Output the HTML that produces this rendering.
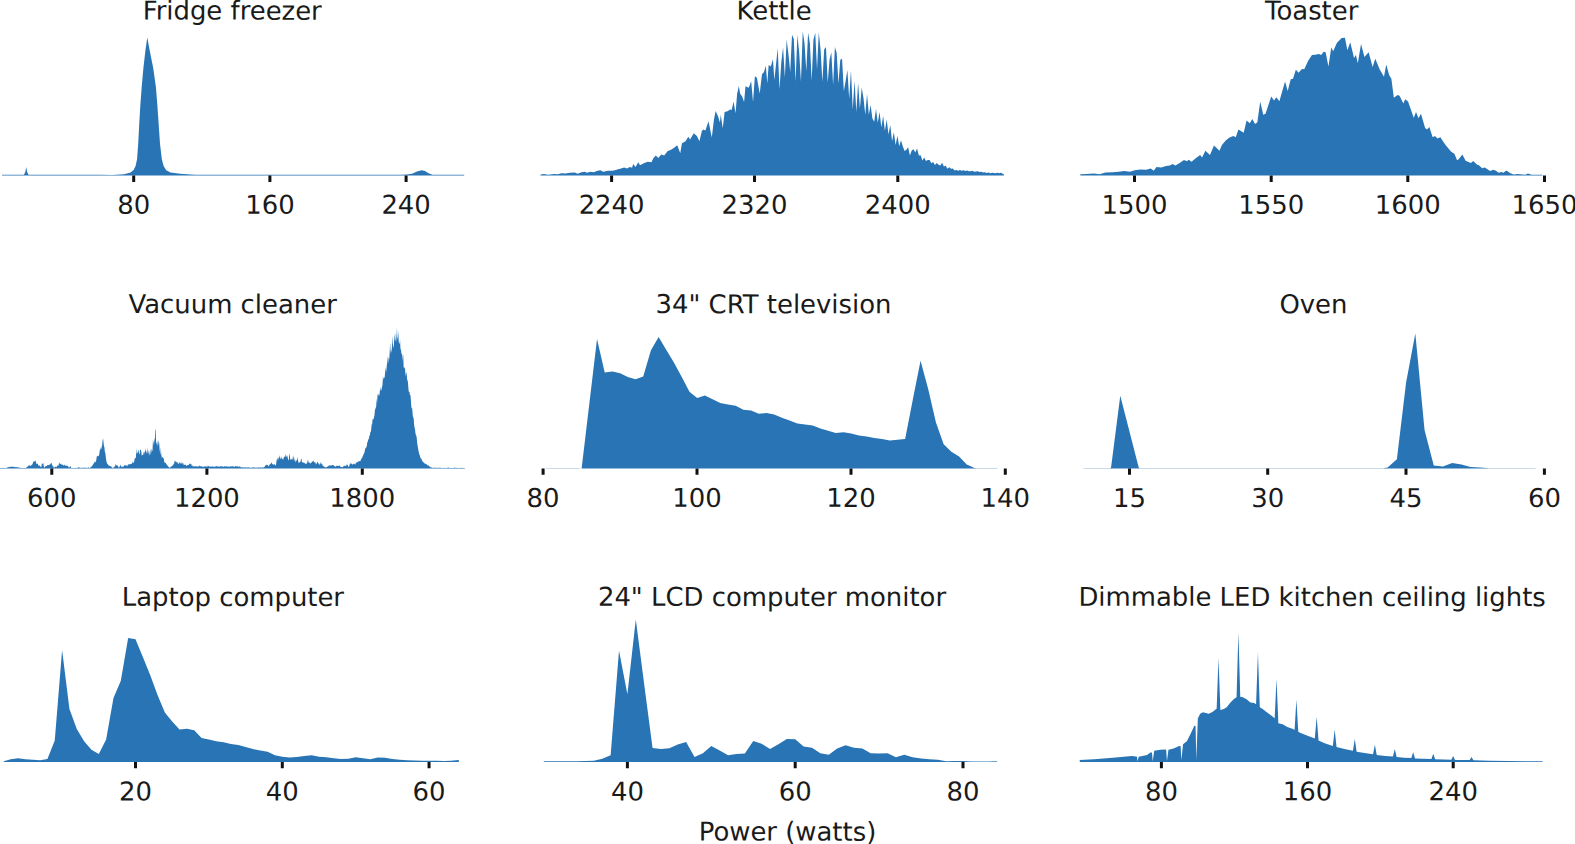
<!DOCTYPE html>
<html lang="en"><head><meta charset="utf-8"><title>Appliance power histograms</title>
<style>html,body{margin:0;padding:0;background:#fff;overflow:hidden}svg{display:block}text{text-rendering:geometricPrecision;font-family:"DejaVu Sans","Liberation Sans",sans-serif;font-size:25.9px;fill:#1a1a1a;text-anchor:middle}.f{fill:#2874b5;stroke:none}.t{stroke:#111;stroke-width:3;fill:none}</style></head><body>
<svg width="1575" height="844" viewBox="0 0 1575 844">
<rect width="1575" height="844" fill="#fff"/>
<path class="f" d="M2.00,175.50 L2.00,174.75 L23.90,174.75 L25.30,172.00 L26.20,167.10 L27.10,172.00 L28.50,174.75 L100.00,174.70 L112.00,175.00 L124.00,174.30 L130.50,172.60 L133.60,170.00 L135.60,166.00 L137.10,158.90 L138.20,143.70 L139.20,124.80 L140.30,105.80 L141.70,86.90 L143.40,67.90 L145.60,48.96 L147.30,37.60 L149.40,48.96 L153.20,67.90 L155.90,86.90 L157.40,105.80 L158.70,124.80 L160.00,143.70 L161.80,158.90 L163.60,166.00 L166.20,170.20 L170.50,172.60 L180.00,173.80 L195.00,174.80 L205.00,174.75 L400.00,174.75 L406.90,174.60 L412.00,173.80 L417.00,171.60 L421.60,170.30 L425.00,171.00 L428.00,173.00 L432.50,174.70 L464.20,174.75 L464.20,175.50 Z"/>
<path class="f" d="M540.31,175.50 L540.31,174.69 L543.53,173.93 L548.27,174.69 L553.96,173.93 L557.75,174.31 L561.54,173.18 L565.33,173.55 L570.07,172.80 L574.81,172.61 L577.65,173.74 L581.45,172.23 L584.67,171.66 L587.13,172.80 L590.36,171.66 L593.77,172.23 L597.56,170.71 L600.40,170.14 L603.25,171.66 L607.99,170.71 L612.73,170.71 L616.52,169.76 L620.31,168.82 L624.10,167.49 L626.94,168.44 L629.79,166.92 L632.06,167.87 L633.20,164.08 L635.47,166.92 L638.32,162.18 L640.00,165.21 L644.27,163.08 L647.82,161.66 L651.37,162.37 L653.51,158.10 L655.92,155.55 L658.20,158.10 L661.33,154.55 L664.17,155.55 L667.73,151.00 L670.57,150.00 L673.41,148.15 L677.25,145.31 L680.24,153.13 L681.94,143.18 L685.50,141.33 L688.34,136.78 L690.05,139.62 L693.74,133.22 L696.87,136.07 L699.43,141.33 L701.85,131.09 L703.27,129.38 L705.40,130.38 L708.53,121.14 L711.80,137.49 L713.93,119.72 L715.64,110.90 L718.20,116.87 L719.91,122.56 L720.76,114.74 L722.75,128.25 L724.60,111.90 L727.44,111.18 L730.28,109.48 L731.71,110.05 L733.55,101.52 L735.55,113.32 L737.11,94.12 L738.82,86.02 L740.24,94.12 L742.09,96.26 L744.08,101.94 L745.50,86.30 L748.77,87.73 L751.18,81.33 L753.03,101.94 L754.88,76.35 L756.87,77.77 L759.72,93.41 L761.99,74.22 L763.98,72.09 L765.83,65.69 L767.25,83.46 L768.67,64.98 L770.81,66.40 L772.94,59.29 L774.36,79.91 L777.72,48.31 L779.51,89.15 L781.30,61.95 L783.08,47.17 L784.87,77.43 L786.66,39.62 L788.44,54.24 L790.23,72.12 L792.02,34.67 L793.80,39.06 L795.59,81.26 L797.38,35.11 L799.16,52.03 L800.95,81.47 L802.74,31.58 L804.52,43.11 L806.31,71.33 L808.10,32.68 L809.88,43.35 L811.67,80.38 L813.45,39.80 L815.24,32.72 L817.03,69.57 L818.81,32.33 L820.60,49.95 L822.39,81.87 L824.17,49.43 L825.96,46.89 L827.75,82.62 L829.53,59.66 L831.32,52.26 L833.11,84.87 L834.89,47.06 L836.68,53.06 L838.47,83.40 L840.25,60.02 L842.04,58.46 L843.83,90.96 L845.61,81.20 L847.40,69.99 L849.18,98.92 L850.97,70.22 L852.76,109.51 L854.54,80.63 L856.33,112.04 L858.12,82.76 L859.90,108.87 L861.69,87.45 L863.48,97.89 L865.26,114.70 L867.05,93.88 L868.84,114.84 L870.62,105.04 L872.41,118.51 L874.20,121.66 L875.98,109.05 L877.77,122.69 L879.56,111.88 L881.34,127.35 L883.13,116.01 L884.91,130.77 L886.70,119.62 L888.49,134.49 L890.27,124.98 L892.06,141.19 L893.85,132.16 L895.63,145.04 L897.42,135.70 L899.21,146.23 L900.99,140.20 L902.78,146.22 L904.57,151.02 L906.35,149.68 L908.14,147.35 L909.93,155.51 L911.71,150.42 L913.50,149.28 L915.29,152.48 L917.07,148.47 L918.86,155.52 L920.64,155.25 L922.43,160.39 L924.22,157.49 L926.00,160.91 L927.79,160.12 L929.58,160.03 L931.36,163.31 L933.15,161.94 L934.94,164.98 L936.72,163.02 L938.51,164.74 L940.30,165.58 L942.08,162.87 L943.87,166.41 L945.66,165.80 L947.44,168.67 L949.23,167.31 L951.02,168.77 L952.80,168.44 L954.59,170.44 L956.37,169.88 L958.16,170.85 L959.95,170.08 L961.73,170.83 L963.52,170.19 L965.31,171.05 L967.09,170.46 L968.88,171.21 L970.67,171.25 L972.45,170.83 L974.24,171.87 L976.03,171.60 L977.81,171.36 L979.60,172.06 L981.39,171.64 L983.17,172.51 L984.96,172.17 L986.75,173.01 L988.53,172.55 L990.32,173.14 L992.10,172.75 L993.89,172.90 L995.68,173.16 L997.46,172.80 L999.25,173.20 L1001.04,172.73 L1002.82,173.73 L1003.93,174.50 L1003.93,175.50 Z"/>
<path class="f" d="M1080.31,175.50 L1080.31,174.31 L1086.37,173.93 L1093.96,173.55 L1099.64,174.31 L1105.33,172.61 L1112.91,172.23 L1118.60,171.66 L1124.29,171.09 L1129.98,171.66 L1134.72,170.33 L1140.40,169.38 L1146.09,169.76 L1150.83,168.44 L1153.67,170.71 L1156.52,166.92 L1161.26,167.49 L1166.00,165.97 L1169.79,165.59 L1172.63,164.08 L1175.47,165.59 L1179.27,163.13 L1184.00,159.91 L1186.85,161.23 L1188.74,159.72 L1191.59,161.80 L1195.38,158.39 L1200.12,154.98 L1202.01,157.44 L1205.43,150.81 L1209.98,154.98 L1213.96,145.50 L1219.45,150.81 L1221.92,145.12 L1225.71,140.38 L1229.50,137.54 L1233.29,136.02 L1235.76,137.16 L1238.41,129.57 L1243.72,132.80 L1246.56,120.47 L1249.79,123.32 L1252.25,118.96 L1255.09,123.89 L1257.37,122.37 L1260.21,101.52 L1263.25,114.79 L1265.52,113.84 L1271.21,96.40 L1274.05,100.57 L1276.33,97.35 L1279.36,101.14 L1285.05,81.61 L1287.70,91.09 L1290.73,79.15 L1293.01,78.77 L1295.85,69.67 L1298.70,72.70 L1301.54,69.29 L1304.38,68.91 L1308.18,60.76 L1311.97,55.07 L1315.00,54.69 L1318.96,54.12 L1321.23,55.07 L1323.70,51.85 L1325.59,52.23 L1328.44,66.45 L1331.28,47.49 L1333.18,51.28 L1336.97,42.75 L1341.71,38.01 L1344.93,37.63 L1347.39,50.33 L1350.24,42.37 L1354.03,57.91 L1355.92,55.07 L1357.82,63.22 L1361.04,44.08 L1364.45,56.97 L1368.63,52.23 L1372.61,67.01 L1375.26,58.86 L1379.62,69.29 L1383.98,76.87 L1386.26,64.55 L1389.10,74.98 L1391.37,78.77 L1393.84,97.73 L1397.63,94.88 L1399.53,95.83 L1403.32,103.41 L1405.21,99.24 L1408.06,101.52 L1413.74,117.63 L1416.02,111.94 L1418.48,118.20 L1420.95,113.84 L1425.12,128.06 L1427.01,129.57 L1429.29,127.11 L1432.70,137.16 L1434.98,136.02 L1437.44,138.48 L1440.28,137.16 L1440.00,136.79 L1445.33,144.79 L1451.20,151.72 L1454.40,153.85 L1457.06,160.25 L1458.66,159.18 L1462.39,154.38 L1465.59,160.78 L1470.92,162.91 L1473.27,161.10 L1476.79,164.51 L1478.92,165.26 L1482.12,168.25 L1484.79,167.39 L1490.12,170.91 L1493.32,169.85 L1495.45,170.38 L1498.65,172.73 L1501.32,171.98 L1503.45,172.83 L1506.33,170.38 L1510.38,173.36 L1513.58,174.43 L1517.84,173.90 L1525.31,174.64 L1527.97,173.58 L1531.71,174.86 L1541.84,174.64 L1542.37,174.86 L1542.37,175.50 Z"/>
<path class="f" d="M0.00,468.40 L0.00,467.95 L0.45,467.95 L0.90,467.92 L1.35,467.95 L1.80,467.95 L2.25,467.95 L2.70,467.87 L3.15,467.90 L3.60,467.95 L4.05,467.69 L4.50,467.95 L4.95,467.95 L5.40,467.95 L5.85,467.95 L6.30,467.95 L6.75,467.83 L7.20,467.33 L7.65,467.68 L8.10,467.15 L8.55,467.07 L9.00,467.21 L9.45,466.70 L9.90,467.09 L10.35,467.06 L10.80,466.58 L11.25,466.89 L11.70,466.80 L12.15,466.56 L12.60,466.64 L13.05,466.67 L13.50,466.82 L13.95,466.96 L14.40,467.23 L14.85,466.86 L15.30,467.39 L15.75,466.84 L16.20,467.31 L16.65,467.09 L17.10,467.20 L17.55,467.55 L18.00,467.59 L18.45,467.58 L18.90,467.45 L19.35,467.67 L19.80,467.59 L20.25,467.84 L20.70,467.95 L21.15,467.95 L21.60,467.95 L22.05,467.83 L22.50,467.95 L22.95,467.95 L23.40,467.92 L23.85,467.95 L24.30,467.95 L24.75,467.95 L25.20,467.95 L25.65,467.95 L26.10,467.73 L26.55,467.53 L27.00,466.97 L27.45,466.81 L27.90,466.28 L28.35,465.87 L28.80,465.51 L29.25,466.01 L29.70,464.55 L30.15,465.48 L30.60,465.97 L31.05,466.05 L31.50,464.40 L31.95,465.04 L32.40,464.17 L32.85,463.15 L33.30,461.23 L33.75,461.76 L34.20,461.98 L34.65,461.12 L35.10,460.58 L35.55,460.82 L36.00,462.46 L36.45,463.84 L36.90,464.25 L37.35,463.53 L37.80,463.81 L38.25,465.21 L38.70,465.77 L39.15,465.40 L39.60,465.55 L40.05,466.15 L40.50,466.55 L40.95,466.91 L41.40,467.11 L41.85,463.18 L42.30,464.38 L42.75,463.52 L43.20,462.54 L43.65,465.33 L44.10,467.79 L44.55,467.15 L45.00,466.73 L45.45,466.58 L45.90,465.78 L46.35,466.13 L46.80,465.80 L47.25,465.19 L47.70,464.93 L48.15,464.97 L48.60,465.26 L49.05,464.80 L49.50,464.72 L49.95,464.69 L50.40,463.58 L50.85,463.70 L51.30,463.10 L51.75,463.21 L52.20,465.60 L52.65,465.59 L53.10,466.05 L53.55,467.16 L54.00,467.48 L54.45,467.55 L54.90,467.45 L55.35,466.77 L55.80,466.57 L56.25,467.17 L56.70,466.66 L57.15,466.05 L57.60,465.12 L58.05,466.02 L58.50,465.80 L58.95,463.15 L59.40,462.26 L59.85,464.37 L60.30,464.05 L60.75,463.70 L61.20,463.69 L61.65,465.00 L62.10,464.70 L62.55,464.39 L63.00,464.97 L63.45,465.62 L63.90,465.43 L64.35,465.15 L64.80,464.42 L65.25,465.42 L65.70,465.94 L66.15,465.73 L66.60,465.57 L67.05,465.67 L67.50,465.96 L67.95,465.99 L68.40,467.03 L68.85,467.55 L69.30,467.42 L69.75,466.63 L70.20,466.61 L70.65,466.01 L71.10,467.95 L71.55,467.95 L72.00,467.95 L72.45,467.95 L72.90,467.95 L73.35,467.95 L73.80,467.95 L74.25,467.95 L74.70,467.95 L75.15,467.95 L75.60,467.95 L76.05,467.79 L76.50,467.95 L76.95,467.95 L77.40,467.72 L77.85,467.95 L78.30,467.37 L78.75,467.18 L79.20,467.19 L79.65,467.65 L80.10,467.90 L80.55,467.75 L81.00,467.79 L81.45,467.77 L81.90,467.95 L82.35,467.77 L82.80,467.80 L83.25,467.69 L83.70,467.77 L84.15,467.84 L84.60,467.77 L85.05,467.52 L85.50,467.95 L85.95,467.77 L86.40,467.66 L86.85,467.63 L87.30,467.95 L87.75,467.89 L88.20,467.24 L88.65,467.55 L89.10,467.95 L89.55,467.95 L90.00,467.81 L90.45,467.51 L90.90,467.14 L91.35,466.58 L91.80,466.16 L92.25,465.75 L92.70,464.95 L93.15,464.34 L93.60,463.52 L94.05,463.32 L94.50,462.10 L94.95,461.43 L95.40,462.45 L95.85,461.53 L96.30,460.06 L96.75,456.38 L97.20,456.14 L97.65,456.02 L98.10,455.58 L98.55,456.59 L99.00,455.44 L99.45,452.90 L99.90,449.61 L100.35,450.05 L100.80,447.05 L101.25,449.59 L101.70,446.98 L102.15,445.01 L102.60,440.27 L103.05,438.41 L103.50,442.08 L103.95,446.25 L104.40,446.96 L104.85,451.81 L105.30,452.80 L105.75,456.67 L106.20,460.16 L106.65,462.25 L107.10,463.45 L107.55,464.10 L108.00,464.44 L108.45,465.20 L108.90,465.70 L109.35,465.87 L109.80,465.85 L110.25,466.20 L110.70,466.13 L111.15,466.15 L111.60,467.11 L112.05,467.87 L112.50,467.83 L112.95,467.95 L113.40,467.14 L113.85,467.53 L114.30,467.29 L114.75,465.99 L115.20,465.88 L115.65,463.84 L116.10,465.05 L116.55,465.68 L117.00,464.45 L117.45,465.89 L117.90,465.75 L118.35,466.76 L118.80,467.95 L119.25,467.47 L119.70,466.17 L120.15,465.98 L120.60,464.40 L121.05,465.92 L121.50,467.01 L121.95,467.11 L122.40,467.23 L122.85,465.79 L123.30,466.74 L123.75,466.22 L124.20,465.83 L124.65,464.86 L125.10,465.61 L125.55,464.88 L126.00,465.72 L126.45,465.12 L126.90,466.30 L127.35,466.15 L127.80,464.60 L128.25,464.91 L128.70,463.92 L129.15,463.94 L129.60,464.50 L130.05,464.14 L130.50,464.19 L130.95,463.73 L131.40,463.99 L131.85,463.85 L132.30,461.08 L132.75,463.48 L133.20,462.31 L133.65,462.90 L134.10,462.04 L134.55,459.48 L135.00,457.18 L135.45,458.55 L135.90,457.81 L136.35,448.06 L136.80,454.09 L137.25,452.97 L137.70,452.55 L138.15,449.52 L138.60,450.79 L139.05,453.57 L139.50,454.45 L139.95,450.65 L140.40,449.44 L140.85,449.75 L141.30,451.70 L141.75,455.78 L142.20,455.24 L142.65,454.74 L143.10,454.87 L143.55,451.21 L144.00,455.33 L144.45,451.19 L144.90,452.87 L145.35,447.69 L145.80,451.58 L146.25,450.72 L146.70,453.24 L147.15,453.39 L147.60,446.66 L148.05,454.50 L148.50,449.55 L148.95,453.95 L149.40,455.84 L149.85,450.52 L150.30,455.01 L150.75,448.31 L151.20,453.52 L151.65,448.28 L152.10,451.50 L152.55,449.65 L153.00,438.73 L153.45,445.39 L153.90,441.32 L154.35,437.55 L154.80,443.39 L155.25,430.17 L155.70,428.64 L156.15,443.72 L156.60,441.98 L157.05,446.27 L157.50,439.71 L157.95,446.35 L158.40,442.63 L158.85,439.88 L159.30,444.19 L159.75,452.25 L160.20,447.37 L160.65,454.98 L161.10,452.23 L161.55,456.17 L162.00,458.42 L162.45,456.72 L162.90,457.36 L163.35,459.06 L163.80,457.87 L164.25,462.00 L164.70,462.51 L165.15,463.06 L165.60,462.62 L166.05,463.58 L166.50,464.45 L166.95,464.45 L167.40,465.55 L167.85,466.12 L168.30,466.63 L168.75,466.87 L169.20,467.82 L169.65,467.44 L170.10,467.41 L170.55,466.91 L171.00,466.59 L171.45,466.28 L171.90,466.47 L172.35,465.08 L172.80,466.05 L173.25,464.65 L173.70,463.48 L174.15,463.82 L174.60,460.52 L175.05,461.58 L175.50,461.63 L175.95,460.42 L176.40,462.34 L176.85,462.31 L177.30,463.55 L177.75,461.86 L178.20,463.49 L178.65,463.72 L179.10,463.65 L179.55,461.74 L180.00,462.39 L180.45,463.44 L180.90,463.53 L181.35,463.86 L181.80,461.86 L182.25,464.51 L182.70,462.46 L183.15,462.97 L183.60,464.79 L184.05,465.05 L184.50,464.62 L184.95,465.00 L185.40,464.66 L185.85,464.72 L186.30,465.74 L186.75,465.93 L187.20,465.60 L187.65,464.92 L188.10,465.09 L188.55,465.12 L189.00,464.71 L189.45,463.83 L189.90,463.75 L190.35,463.42 L190.80,464.20 L191.25,463.80 L191.70,466.05 L192.15,465.32 L192.60,466.06 L193.05,466.78 L193.50,466.56 L193.95,465.58 L194.40,466.50 L194.85,466.46 L195.30,466.51 L195.75,465.81 L196.20,466.23 L196.65,466.57 L197.10,466.41 L197.55,466.76 L198.00,466.29 L198.45,466.06 L198.90,466.78 L199.35,466.05 L199.80,465.53 L200.25,466.21 L200.70,466.55 L201.15,466.30 L201.60,466.34 L202.05,466.51 L202.50,466.67 L202.95,466.65 L203.40,466.72 L203.85,466.78 L204.30,466.21 L204.75,466.47 L205.20,466.71 L205.65,466.36 L206.10,466.47 L206.55,466.12 L207.00,466.79 L207.45,466.64 L207.90,465.54 L208.35,465.94 L208.80,466.28 L209.25,466.62 L209.70,466.70 L210.15,466.27 L210.60,466.87 L211.05,466.57 L211.50,466.78 L211.95,466.72 L212.40,466.32 L212.85,466.43 L213.30,466.45 L213.75,466.69 L214.20,466.80 L214.65,466.71 L215.10,466.75 L215.55,466.65 L216.00,465.51 L216.45,466.03 L216.90,466.72 L217.35,466.66 L217.80,465.90 L218.25,466.56 L218.70,466.79 L219.15,466.59 L219.60,466.85 L220.05,466.40 L220.50,466.01 L220.95,466.34 L221.40,465.98 L221.85,466.91 L222.30,466.64 L222.75,466.02 L223.20,466.74 L223.65,466.74 L224.10,466.61 L224.55,466.27 L225.00,466.03 L225.45,466.76 L225.90,466.62 L226.35,465.94 L226.80,466.83 L227.25,466.28 L227.70,466.79 L228.15,466.85 L228.60,466.45 L229.05,466.26 L229.50,466.96 L229.95,466.70 L230.40,466.46 L230.85,465.90 L231.30,466.21 L231.75,466.69 L232.20,466.07 L232.65,466.32 L233.10,466.45 L233.55,466.81 L234.00,466.62 L234.45,466.55 L234.90,466.95 L235.35,465.96 L235.80,465.99 L236.25,466.75 L236.70,466.29 L237.15,466.32 L237.60,466.21 L238.05,466.71 L238.50,466.66 L238.95,466.43 L239.40,466.68 L239.85,466.24 L240.30,466.84 L240.75,467.19 L241.20,467.66 L241.65,467.12 L242.10,467.68 L242.55,467.07 L243.00,467.29 L243.45,467.46 L243.90,467.46 L244.35,467.56 L244.80,467.54 L245.25,467.19 L245.70,467.48 L246.15,467.75 L246.60,467.39 L247.05,467.36 L247.50,467.76 L247.95,467.32 L248.40,467.21 L248.85,467.76 L249.30,467.19 L249.75,467.66 L250.20,467.80 L250.65,467.77 L251.10,467.74 L251.55,467.82 L252.00,467.48 L252.45,467.62 L252.90,467.74 L253.35,467.34 L253.80,467.28 L254.25,467.57 L254.70,467.74 L255.15,467.62 L255.60,467.68 L256.05,467.36 L256.50,467.78 L256.95,467.84 L257.40,467.66 L257.85,467.82 L258.30,467.56 L258.75,467.32 L259.20,467.59 L259.65,467.52 L260.10,467.17 L260.55,467.40 L261.00,467.58 L261.45,467.68 L261.90,467.61 L262.35,467.58 L262.80,467.27 L263.25,467.49 L263.70,467.48 L264.15,467.11 L264.60,467.08 L265.05,465.94 L265.50,465.53 L265.95,464.71 L266.40,464.86 L266.85,465.25 L267.30,464.92 L267.75,464.63 L268.20,466.02 L268.65,466.39 L269.10,465.57 L269.55,464.82 L270.00,463.92 L270.45,464.16 L270.90,463.61 L271.35,463.04 L271.80,462.25 L272.25,464.14 L272.70,464.19 L273.15,463.98 L273.60,464.70 L274.05,464.98 L274.50,463.74 L274.95,464.72 L275.40,465.59 L275.85,465.39 L276.30,462.85 L276.75,459.26 L277.20,460.52 L277.65,457.00 L278.10,459.97 L278.55,457.76 L279.00,457.96 L279.45,454.95 L279.90,457.78 L280.35,459.39 L280.80,457.14 L281.25,459.22 L281.70,456.07 L282.15,459.25 L282.60,459.48 L283.05,457.74 L283.50,459.87 L283.95,457.29 L284.40,456.89 L284.85,456.13 L285.30,453.87 L285.75,456.73 L286.20,457.36 L286.65,455.98 L287.10,455.31 L287.55,456.86 L288.00,459.48 L288.45,460.45 L288.90,459.10 L289.35,453.30 L289.80,455.30 L290.25,459.50 L290.70,460.12 L291.15,458.38 L291.60,459.20 L292.05,460.36 L292.50,459.28 L292.95,456.17 L293.40,459.59 L293.85,455.03 L294.30,459.14 L294.75,461.27 L295.20,459.48 L295.65,462.39 L296.10,461.37 L296.55,459.91 L297.00,460.39 L297.45,456.76 L297.90,459.64 L298.35,462.40 L298.80,462.75 L299.25,463.13 L299.70,461.61 L300.15,462.26 L300.60,461.22 L301.05,459.08 L301.50,458.49 L301.95,462.10 L302.40,462.25 L302.85,462.49 L303.30,462.51 L303.75,462.70 L304.20,463.37 L304.65,462.54 L305.10,463.78 L305.55,463.76 L306.00,463.77 L306.45,464.25 L306.90,462.62 L307.35,462.53 L307.80,459.69 L308.25,460.53 L308.70,462.74 L309.15,463.23 L309.60,461.90 L310.05,463.04 L310.50,463.80 L310.95,462.84 L311.40,463.05 L311.85,461.60 L312.30,461.91 L312.75,460.79 L313.20,461.76 L313.65,460.21 L314.10,462.10 L314.55,462.26 L315.00,462.68 L315.45,462.04 L315.90,464.85 L316.35,463.76 L316.80,463.35 L317.25,461.41 L317.70,462.13 L318.15,463.03 L318.60,463.39 L319.05,464.84 L319.50,464.68 L319.95,463.36 L320.40,464.27 L320.85,461.73 L321.30,463.27 L321.75,464.41 L322.20,463.87 L322.65,465.64 L323.10,466.24 L323.55,465.60 L324.00,466.82 L324.45,466.70 L324.90,467.24 L325.35,467.48 L325.80,467.31 L326.25,467.27 L326.70,467.15 L327.15,466.82 L327.60,466.58 L328.05,466.17 L328.50,466.30 L328.95,465.06 L329.40,465.90 L329.85,465.11 L330.30,465.86 L330.75,465.37 L331.20,465.51 L331.65,465.45 L332.10,464.89 L332.55,464.97 L333.00,465.11 L333.45,465.48 L333.90,465.29 L334.35,466.55 L334.80,466.06 L335.25,466.53 L335.70,466.69 L336.15,466.23 L336.60,465.52 L337.05,466.00 L337.50,466.09 L337.95,465.41 L338.40,466.01 L338.85,465.87 L339.30,465.47 L339.75,465.84 L340.20,466.46 L340.65,466.67 L341.10,466.91 L341.55,466.79 L342.00,467.27 L342.45,467.21 L342.90,467.00 L343.35,466.30 L343.80,466.09 L344.25,466.24 L344.70,465.34 L345.15,466.20 L345.60,465.75 L346.05,465.76 L346.50,465.14 L346.95,464.10 L347.40,465.04 L347.85,465.13 L348.30,466.53 L348.75,467.10 L349.20,466.29 L349.65,464.58 L350.10,463.77 L350.55,463.29 L351.00,463.56 L351.45,463.60 L351.90,464.09 L352.35,464.92 L352.80,463.84 L353.25,464.53 L353.70,463.44 L354.15,464.11 L354.60,463.49 L355.05,464.52 L355.50,464.40 L355.95,462.08 L356.40,462.69 L356.85,462.79 L357.30,462.26 L357.75,461.84 L358.20,461.65 L358.65,461.23 L359.10,461.07 L359.55,461.29 L360.00,461.14 L360.45,460.93 L360.90,459.86 L361.35,458.93 L361.80,457.80 L362.25,457.90 L362.70,455.80 L363.15,455.42 L363.60,454.13 L364.05,453.35 L364.50,452.58 L364.95,449.81 L365.40,448.13 L365.85,447.80 L366.30,447.30 L366.75,446.61 L367.20,442.48 L367.65,442.06 L368.10,440.14 L368.55,438.93 L369.00,438.59 L369.45,434.64 L369.90,435.89 L370.35,431.85 L370.80,431.96 L371.25,428.95 L371.70,423.99 L372.15,424.78 L372.60,418.74 L373.05,419.50 L373.50,419.28 L373.95,417.31 L374.40,415.74 L374.85,411.02 L375.30,406.68 L375.75,409.94 L376.20,406.26 L376.65,398.20 L377.10,403.14 L377.55,394.82 L378.00,394.36 L378.45,396.19 L378.90,393.14 L379.35,396.34 L379.80,391.37 L380.25,386.45 L380.70,390.63 L381.15,390.54 L381.60,389.10 L382.05,386.80 L382.50,385.03 L382.95,376.51 L383.40,379.79 L383.85,377.16 L384.30,378.28 L384.75,376.46 L385.20,371.75 L385.65,366.66 L386.10,372.41 L386.55,368.27 L387.00,363.49 L387.45,355.48 L387.90,364.35 L388.35,361.12 L388.80,356.67 L389.25,359.87 L389.70,351.56 L390.15,342.37 L390.60,353.84 L391.05,349.53 L391.50,352.94 L391.95,346.40 L392.40,335.76 L392.85,344.00 L393.30,347.99 L393.75,346.08 L394.20,339.84 L394.65,333.46 L395.10,341.31 L395.55,339.79 L396.00,332.16 L396.45,342.89 L396.90,327.13 L397.35,337.57 L397.80,339.17 L398.25,330.58 L398.70,341.53 L399.15,343.43 L399.60,343.64 L400.05,339.29 L400.50,350.21 L400.95,348.51 L401.40,354.31 L401.85,352.95 L402.30,360.98 L402.75,355.06 L403.20,354.42 L403.65,366.83 L404.10,368.64 L404.55,367.50 L405.00,367.36 L405.45,377.01 L405.90,372.46 L406.35,372.62 L406.80,375.33 L407.25,382.11 L407.70,378.64 L408.15,385.13 L408.60,390.47 L409.05,392.29 L409.50,391.86 L409.95,395.36 L410.40,394.76 L410.85,399.37 L411.30,406.59 L411.75,408.51 L412.20,408.15 L412.65,414.24 L413.10,418.20 L413.55,416.43 L414.00,423.52 L414.45,427.09 L414.90,428.76 L415.35,432.35 L415.80,435.08 L416.25,435.51 L416.70,437.68 L417.15,442.66 L417.60,445.70 L418.05,448.22 L418.50,451.07 L418.95,452.60 L419.40,454.79 L419.85,455.31 L420.30,457.35 L420.75,458.62 L421.20,458.29 L421.65,459.51 L422.10,460.79 L422.55,461.52 L423.00,461.83 L423.45,462.18 L423.90,462.85 L424.35,463.19 L424.80,463.55 L425.25,463.51 L425.70,464.17 L426.15,464.24 L426.60,464.10 L427.05,464.98 L427.50,465.34 L427.95,465.66 L428.40,465.25 L428.85,465.80 L429.30,466.03 L429.75,466.69 L430.20,467.04 L430.65,467.29 L431.10,467.43 L431.55,467.20 L432.00,467.65 L432.45,467.77 L432.90,467.90 L433.35,467.42 L433.80,467.95 L434.25,467.72 L434.70,467.74 L435.15,467.67 L435.60,467.65 L436.05,467.75 L436.50,467.82 L436.95,467.90 L437.40,467.65 L437.85,467.95 L438.30,467.95 L438.75,467.73 L439.20,467.62 L439.65,467.81 L440.10,467.95 L440.55,467.66 L441.00,467.54 L441.45,467.95 L441.90,467.95 L442.35,467.95 L442.80,467.90 L443.25,467.95 L443.70,467.95 L444.15,467.54 L444.60,467.95 L445.05,467.95 L445.50,467.95 L445.95,467.95 L446.40,467.95 L446.85,467.95 L447.30,467.83 L447.75,467.79 L448.20,467.58 L448.65,467.56 L449.10,467.95 L449.55,467.95 L450.00,467.88 L450.45,467.95 L450.90,467.65 L451.35,467.95 L451.80,467.95 L452.25,467.95 L452.70,467.95 L453.15,467.95 L453.60,467.95 L454.05,467.61 L454.50,467.78 L454.95,467.76 L455.40,467.64 L455.85,467.91 L456.30,467.72 L456.75,467.86 L457.20,467.95 L457.65,467.95 L458.10,467.95 L458.55,467.95 L459.00,467.89 L459.45,467.75 L459.90,467.95 L460.35,467.95 L460.80,467.95 L461.25,467.77 L461.70,467.77 L462.15,467.95 L462.60,467.95 L463.05,467.95 L463.50,467.95 L463.95,467.75 L464.40,467.95 L464.85,467.95 L464.85,468.40 Z"/>
<path class="f" d="M546.00,468.40 L546.00,468.15 L579.30,468.15 L581.62,468.40 L597.02,339.00 L604.72,372.50 L612.43,371.40 L620.13,373.30 L627.83,376.90 L635.54,379.30 L643.24,376.50 L650.94,350.30 L658.64,337.10 L666.35,350.00 L674.05,362.70 L681.75,376.90 L689.46,391.70 L697.16,397.90 L704.86,395.40 L712.57,399.20 L720.27,403.00 L727.97,404.40 L735.68,405.70 L743.38,409.70 L751.08,410.40 L758.78,413.80 L766.49,413.10 L774.19,414.40 L781.89,417.80 L789.60,420.50 L797.30,423.50 L805.00,424.50 L812.71,425.60 L820.41,428.60 L828.11,430.70 L835.81,433.00 L843.52,432.20 L851.22,433.40 L858.92,435.60 L866.63,436.40 L874.33,437.90 L882.03,439.00 L889.74,440.60 L897.44,439.80 L905.14,439.00 L912.84,399.60 L920.55,360.80 L928.25,389.20 L935.95,422.40 L943.66,444.20 L951.36,451.80 L959.06,456.50 L966.77,464.50 L974.47,468.00 L976.78,468.15 L997.50,468.15 L997.50,468.40 Z"/>
<path class="f" d="M1083.30,468.40 L1083.30,468.15 L1110.14,468.15 L1111.06,467.40 L1120.28,395.80 L1138.72,467.40 L1139.64,468.15 L1383.05,468.15 L1387.66,467.60 L1396.88,459.30 L1406.10,382.60 L1415.32,333.60 L1424.54,430.00 L1433.76,465.60 L1442.98,466.50 L1452.20,463.10 L1461.42,464.50 L1470.64,466.90 L1479.86,467.60 L1489.08,468.15 L1535.70,468.15 L1535.70,468.40 Z"/>
<path class="f" d="M3.80,761.90 L3.80,761.30 L10.72,759.34 L18.06,758.20 L25.40,759.15 L32.74,759.72 L40.08,760.28 L47.42,758.96 L54.76,740.38 L62.10,649.95 L69.44,709.10 L76.78,729.00 L84.12,741.33 L91.46,749.86 L98.80,754.03 L106.14,739.43 L113.48,698.10 L120.82,680.66 L128.16,638.01 L135.50,639.34 L142.84,656.97 L150.18,674.98 L157.52,694.88 L164.86,712.51 L172.20,721.42 L179.54,729.57 L186.88,728.82 L194.22,730.14 L201.56,737.91 L208.90,739.43 L216.24,741.33 L223.58,742.27 L230.92,743.98 L238.26,745.12 L245.60,747.01 L252.94,749.10 L260.28,750.43 L267.62,751.75 L274.96,755.36 L282.30,756.87 L289.64,757.44 L296.98,757.06 L304.32,755.92 L311.66,755.36 L319.00,756.87 L326.34,757.25 L333.68,758.20 L341.02,758.96 L348.36,758.77 L355.70,757.25 L363.04,758.20 L370.38,759.34 L377.72,757.44 L385.06,757.82 L392.40,758.96 L399.74,759.72 L407.08,760.28 L414.42,760.47 L421.76,760.66 L429.10,760.85 L436.44,760.85 L443.78,761.04 L451.12,760.85 L458.46,759.91 L458.80,759.91 L458.80,761.90 Z"/>
<path class="f" d="M543.80,761.90 L543.80,761.30 L577.06,761.28 L585.45,761.09 L593.84,760.71 L602.23,758.82 L610.62,755.21 L619.01,650.76 L627.40,694.36 L635.79,619.48 L644.18,684.31 L652.57,748.01 L660.96,748.96 L669.35,748.20 L677.74,744.60 L686.13,741.94 L694.52,757.11 L702.91,753.13 L711.30,745.92 L719.69,750.47 L728.08,755.21 L736.47,754.08 L744.86,753.51 L753.25,741.00 L761.64,743.65 L770.03,748.96 L778.42,744.22 L786.81,738.91 L795.20,739.29 L803.59,746.49 L811.98,747.63 L820.37,753.13 L828.76,754.83 L837.15,748.39 L845.54,745.17 L853.93,747.63 L862.32,748.39 L870.71,753.13 L879.10,753.51 L887.49,753.32 L895.88,757.30 L904.27,754.83 L912.66,757.30 L921.05,758.44 L929.44,759.19 L937.83,759.76 L946.22,761.28 L954.61,760.90 L963.00,760.90 L971.39,761.47 L979.78,761.47 L988.17,761.47 L996.90,761.30 L996.90,761.90 Z"/>
<path class="f" d="M1079.74,761.90 L1079.74,759.91 L1093.96,759.34 L1112.91,757.82 L1131.87,756.11 L1136.04,756.49 L1136.99,756.87 L1137.56,761.23 L1138.70,756.87 L1147.04,754.98 L1150.83,752.32 L1151.97,752.70 L1152.73,761.23 L1154.24,750.81 L1160.31,749.86 L1165.05,749.48 L1166.18,749.67 L1166.94,761.23 L1168.46,749.86 L1173.58,748.53 L1179.27,746.07 L1180.59,745.88 L1181.35,759.91 L1183.06,744.17 L1186.85,741.33 L1190.64,733.74 L1194.43,725.59 L1195.57,726.16 L1196.33,759.91 L1197.84,718.58 L1200.12,713.84 L1202.96,712.32 L1205.81,712.89 L1208.65,713.84 L1212.44,711.94 L1216.23,709.10 L1216.66,708.72 L1218.51,657.91 L1220.36,710.05 L1223.82,709.10 L1226.66,707.20 L1230.45,702.46 L1234.24,698.67 L1236.56,697.16 L1238.41,632.32 L1240.26,696.78 L1242.77,697.16 L1246.56,699.24 L1250.36,702.46 L1254.15,703.03 L1256.09,704.36 L1257.94,652.23 L1259.79,707.20 L1262.68,709.10 L1266.47,711.94 L1270.26,714.79 L1274.05,717.63 L1274.67,718.58 L1276.52,678.77 L1278.37,723.32 L1282.58,724.27 L1287.32,727.11 L1293.01,729.00 L1294.57,729.95 L1296.42,699.62 L1298.27,731.85 L1300.00,732.80 L1307.58,735.64 L1314.83,738.48 L1316.68,716.68 L1318.53,740.38 L1324.64,743.22 L1332.84,746.07 L1334.69,729.57 L1336.54,747.01 L1345.50,749.29 L1352.94,750.81 L1354.79,739.05 L1356.64,751.75 L1364.45,753.08 L1373.03,754.22 L1374.88,744.74 L1376.73,754.98 L1385.31,755.92 L1392.94,756.49 L1394.79,748.91 L1396.64,757.06 L1404.27,757.63 L1411.33,758.01 L1413.18,752.13 L1415.03,758.39 L1423.22,758.77 L1431.42,758.96 L1433.27,753.65 L1435.12,759.15 L1444.08,759.53 L1451.33,759.72 L1453.18,755.92 L1455.03,759.91 L1463.03,760.09 L1469.71,760.09 L1471.56,757.06 L1473.41,760.28 L1489.57,760.66 L1508.53,761.04 L1540.00,761.23 L1542.65,761.23 L1542.65,761.90 Z"/>
<path class="t" d="M133.70,175.50 v6.4 M269.90,175.50 v6.4 M406.10,175.50 v6.4"/>
<text x="133.7" y="213.70" transform="rotate(0.05 133.7 213.70)">80</text>
<text x="269.9" y="213.70" transform="rotate(0.05 269.9 213.70)">160</text>
<text x="406.1" y="213.70" transform="rotate(0.05 406.1 213.70)">240</text>
<path class="t" d="M611.60,175.50 v6.4 M754.50,175.50 v6.4 M897.80,175.50 v6.4"/>
<text x="611.6" y="213.70" transform="rotate(0.05 611.6 213.70)">2240</text>
<text x="754.5" y="213.70" transform="rotate(0.05 754.5 213.70)">2320</text>
<text x="897.8" y="213.70" transform="rotate(0.05 897.8 213.70)">2400</text>
<path class="t" d="M1134.50,175.50 v6.4 M1271.20,175.50 v6.4 M1407.80,175.50 v6.4 M1544.50,175.50 v6.4"/>
<text x="1134.5" y="213.70" transform="rotate(0.05 1134.5 213.70)">1500</text>
<text x="1271.2" y="213.70" transform="rotate(0.05 1271.2 213.70)">1550</text>
<text x="1407.8" y="213.70" transform="rotate(0.05 1407.8 213.70)">1600</text>
<text x="1544.5" y="213.70" transform="rotate(0.05 1544.5 213.70)">1650</text>
<path class="t" d="M51.80,468.40 v6.4 M206.90,468.40 v6.4 M362.30,468.40 v6.4"/>
<text x="51.8" y="506.90" transform="rotate(0.05 51.8 506.90)">600</text>
<text x="206.9" y="506.90" transform="rotate(0.05 206.9 506.90)">1200</text>
<text x="362.3" y="506.90" transform="rotate(0.05 362.3 506.90)">1800</text>
<path class="t" d="M543.10,468.40 v6.4 M697.00,468.40 v6.4 M851.00,468.40 v6.4 M1005.30,468.40 v6.4"/>
<text x="543.1" y="506.90" transform="rotate(0.05 543.1 506.90)">80</text>
<text x="697.0" y="506.90" transform="rotate(0.05 697.0 506.90)">100</text>
<text x="851.0" y="506.90" transform="rotate(0.05 851.0 506.90)">120</text>
<text x="1005.3" y="506.90" transform="rotate(0.05 1005.3 506.90)">140</text>
<path class="t" d="M1129.50,468.40 v6.4 M1267.70,468.40 v6.4 M1406.00,468.40 v6.4 M1544.40,468.40 v6.4"/>
<text x="1129.5" y="506.90" transform="rotate(0.05 1129.5 506.90)">15</text>
<text x="1267.7" y="506.90" transform="rotate(0.05 1267.7 506.90)">30</text>
<text x="1406.0" y="506.90" transform="rotate(0.05 1406.0 506.90)">45</text>
<text x="1544.4" y="506.90" transform="rotate(0.05 1544.4 506.90)">60</text>
<path class="t" d="M135.50,761.90 v6.4 M282.30,761.90 v6.4 M429.05,761.90 v6.4"/>
<text x="135.5" y="800.40" transform="rotate(0.05 135.5 800.40)">20</text>
<text x="282.3" y="800.40" transform="rotate(0.05 282.3 800.40)">40</text>
<text x="429.1" y="800.40" transform="rotate(0.05 429.1 800.40)">60</text>
<path class="t" d="M627.40,761.90 v6.4 M795.20,761.90 v6.4 M963.00,761.90 v6.4"/>
<text x="627.4" y="800.40" transform="rotate(0.05 627.4 800.40)">40</text>
<text x="795.2" y="800.40" transform="rotate(0.05 795.2 800.40)">60</text>
<text x="963.0" y="800.40" transform="rotate(0.05 963.0 800.40)">80</text>
<path class="t" d="M1161.40,761.90 v6.4 M1307.50,761.90 v6.4 M1453.20,761.90 v6.4"/>
<text x="1161.4" y="800.40" transform="rotate(0.05 1161.4 800.40)">80</text>
<text x="1307.5" y="800.40" transform="rotate(0.05 1307.5 800.40)">160</text>
<text x="1453.2" y="800.40" transform="rotate(0.05 1453.2 800.40)">240</text>
<text x="232.2" y="19.60" transform="rotate(0.05 232.2 19.60)">Fridge freezer</text>
<text x="774.1" y="19.60" transform="rotate(0.05 774.1 19.60)">Kettle</text>
<text x="1311.7" y="19.60" transform="rotate(0.05 1311.7 19.60)">Toaster</text>
<text x="232.7" y="313.20" transform="rotate(0.05 232.7 313.20)">Vacuum cleaner</text>
<text x="773.5" y="313.20" transform="rotate(0.05 773.5 313.20)">34&quot; CRT television</text>
<text x="1313.4" y="313.20" transform="rotate(0.05 1313.4 313.20)">Oven</text>
<text x="232.9" y="605.95" transform="rotate(0.05 232.9 605.95)">Laptop computer</text>
<text x="772.0" y="605.95" transform="rotate(0.05 772.0 605.95)">24&quot; LCD computer monitor</text>
<text x="1312.1" y="605.95" transform="rotate(0.05 1312.1 605.95)">Dimmable LED kitchen ceiling lights</text>
<text x="787.5" y="840.6" transform="rotate(0.05 787.5 840.6)">Power (watts)</text>
</svg></body></html>
